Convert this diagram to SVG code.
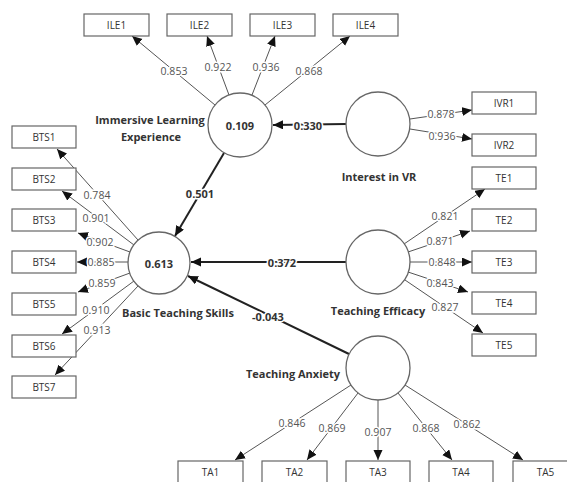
<svg xmlns="http://www.w3.org/2000/svg" width="567" height="482" viewBox="0 0 567 482">
<defs>
<marker id="ah" markerUnits="userSpaceOnUse" markerWidth="11" markerHeight="10" refX="10" refY="4.5" orient="auto"><path d="M0,0 L10,4.5 L0,9 z" fill="#111"/></marker>
<style>
.box{fill:#fff;stroke:#666;stroke-width:1.2}
.bt{font-family:"Open Sans","Noto Sans",sans-serif;font-size:10px;fill:#333;text-anchor:middle;dominant-baseline:central}
.lv{fill:#fff;stroke:#666;stroke-width:1.3}
.ld{stroke:#555;stroke-width:1;fill:none;marker-end:url(#ah)}
.pt{stroke:#222;stroke-width:2;fill:none;marker-end:url(#ah)}
.ll{font-family:"Open Sans","Noto Sans",sans-serif;font-size:10.5px;fill:#555;text-anchor:middle;dominant-baseline:central;stroke:#fff;stroke-width:3;paint-order:stroke}
.pl{font-family:"Open Sans","Noto Sans",sans-serif;font-size:11px;font-weight:bold;fill:#333;text-anchor:middle;dominant-baseline:central;stroke:#fff;stroke-width:3;paint-order:stroke}
.cn{font-family:"Open Sans","Noto Sans",sans-serif;font-size:11px;font-weight:bold;fill:#333;text-anchor:middle;dominant-baseline:central}
</style>
</defs>
<g id="connectors">
<line class="pt" x1="346" y1="124" x2="273" y2="125"/>
<line class="pt" x1="224" y1="153" x2="175" y2="236"/>
<line class="pt" x1="346" y1="262" x2="191" y2="262"/>
<line class="pt" x1="349" y1="354" x2="188" y2="276"/>
<line class="ld" x1="215" y1="105" x2="132" y2="36"/>
<line class="ld" x1="229" y1="95" x2="207" y2="36"/>
<line class="ld" x1="252" y1="95" x2="275" y2="36"/>
<line class="ld" x1="265" y1="105" x2="350" y2="36"/>
<line class="ld" x1="138" y1="240" x2="57" y2="149"/>
<line class="ld" x1="134" y1="245" x2="62" y2="191"/>
<line class="ld" x1="130" y1="252" x2="78" y2="233"/>
<line class="ld" x1="128" y1="262" x2="77" y2="262"/>
<line class="ld" x1="130" y1="273" x2="78" y2="292"/>
<line class="ld" x1="134" y1="281" x2="62" y2="334"/>
<line class="ld" x1="138" y1="286" x2="55" y2="375"/>
<line class="ld" x1="410" y1="119" x2="472" y2="110"/>
<line class="ld" x1="410" y1="129" x2="472" y2="139"/>
<line class="ld" x1="404" y1="244" x2="485" y2="189"/>
<line class="ld" x1="408" y1="252" x2="470" y2="231"/>
<line class="ld" x1="410" y1="262" x2="472" y2="262"/>
<line class="ld" x1="408" y1="272" x2="468" y2="292"/>
<line class="ld" x1="405" y1="280" x2="483" y2="333"/>
<line class="ld" x1="351" y1="385" x2="235" y2="460"/>
<line class="ld" x1="358" y1="393" x2="307" y2="460"/>
<line class="ld" x1="378" y1="400" x2="378" y2="460"/>
<line class="ld" x1="398" y1="393" x2="452" y2="460"/>
<line class="ld" x1="405" y1="385" x2="523" y2="460"/>
<text class="pl" x="308" y="125">0.330</text>
<text class="pl" x="200" y="193">0.501</text>
<text class="pl" x="282" y="262">0.372</text>
<text class="pl" x="268" y="316">-0.043</text>
<text class="ll" x="174" y="71">0.853</text>
<text class="ll" x="218" y="67">0.922</text>
<text class="ll" x="266" y="67">0.936</text>
<text class="ll" x="309" y="71">0.868</text>
<text class="ll" x="97" y="195">0.784</text>
<text class="ll" x="96" y="218">0.901</text>
<text class="ll" x="100" y="242">0.902</text>
<text class="ll" x="101" y="262">0.885</text>
<text class="ll" x="102" y="283">0.859</text>
<text class="ll" x="96" y="310">0.910</text>
<text class="ll" x="97" y="330">0.913</text>
<text class="ll" x="441" y="114">0.878</text>
<text class="ll" x="442" y="136">0.936</text>
<text class="ll" x="445" y="216">0.821</text>
<text class="ll" x="440" y="241">0.871</text>
<text class="ll" x="442" y="262">0.848</text>
<text class="ll" x="440" y="283">0.843</text>
<text class="ll" x="445" y="307">0.827</text>
<text class="ll" x="292" y="423">0.846</text>
<text class="ll" x="332" y="428">0.869</text>
<text class="ll" x="378" y="432">0.907</text>
<text class="ll" x="426" y="428">0.868</text>
<text class="ll" x="467" y="424">0.862</text>
</g>
<g id="ILE"><circle class="lv" cx="240" cy="125" r="32"/><text class="cn" x="240" y="125">0.109</text><text class="cn" x="150" y="119">Immersive Learning</text><text class="cn" x="151" y="136">Experience</text></g>
<g id="IVR"><circle class="lv" cx="378" cy="124" r="32"/><text class="cn" x="379" y="176">Interest in VR</text></g>
<g id="BTS"><circle class="lv" cx="159" cy="263" r="31"/><text class="cn" x="159" y="263">0.613</text><text class="cn" x="178" y="312">Basic Teaching Skills</text></g>
<g id="TE"><circle class="lv" cx="378" cy="262" r="32"/><text class="cn" x="378" y="310">Teaching Efficacy</text></g>
<g id="TA"><circle class="lv" cx="378" cy="368" r="32"/><text class="cn" x="293" y="373">Teaching Anxiety</text></g>
<g id="ILE1"><rect class="box" x="84" y="14" width="65" height="22"/><text class="bt" x="116.5" y="25">ILE1</text></g>
<g id="ILE2"><rect class="box" x="167" y="14" width="65" height="22"/><text class="bt" x="199.5" y="25">ILE2</text></g>
<g id="ILE3"><rect class="box" x="250" y="14" width="65" height="22"/><text class="bt" x="282.5" y="25">ILE3</text></g>
<g id="ILE4"><rect class="box" x="333" y="14" width="65" height="22"/><text class="bt" x="365.5" y="25">ILE4</text></g>
<g id="BTS1"><rect class="box" x="12" y="126" width="64" height="22"/><text class="bt" x="44" y="137">BTS1</text></g>
<g id="BTS2"><rect class="box" x="12" y="168" width="64" height="22"/><text class="bt" x="44" y="179">BTS2</text></g>
<g id="BTS3"><rect class="box" x="12" y="209" width="64" height="22"/><text class="bt" x="44" y="220">BTS3</text></g>
<g id="BTS4"><rect class="box" x="12" y="251" width="64" height="22"/><text class="bt" x="44" y="262">BTS4</text></g>
<g id="BTS5"><rect class="box" x="12" y="293" width="64" height="22"/><text class="bt" x="44" y="304">BTS5</text></g>
<g id="BTS6"><rect class="box" x="12" y="335" width="64" height="22"/><text class="bt" x="44" y="346">BTS6</text></g>
<g id="BTS7"><rect class="box" x="12" y="376" width="64" height="22"/><text class="bt" x="44" y="387">BTS7</text></g>
<g id="IVR1"><rect class="box" x="472" y="92" width="64" height="22"/><text class="bt" x="504" y="103">IVR1</text></g>
<g id="IVR2"><rect class="box" x="472" y="134" width="64" height="22"/><text class="bt" x="504" y="145">IVR2</text></g>
<g id="TE1"><rect class="box" x="472" y="167" width="64" height="22"/><text class="bt" x="504" y="178">TE1</text></g>
<g id="TE2"><rect class="box" x="472" y="209" width="64" height="22"/><text class="bt" x="504" y="220">TE2</text></g>
<g id="TE3"><rect class="box" x="472" y="251" width="64" height="22"/><text class="bt" x="504" y="262">TE3</text></g>
<g id="TE4"><rect class="box" x="472" y="292" width="64" height="22"/><text class="bt" x="504" y="303">TE4</text></g>
<g id="TE5"><rect class="box" x="472" y="334" width="64" height="22"/><text class="bt" x="504" y="345">TE5</text></g>
<g id="TA1"><rect class="box" x="178" y="461" width="65" height="24"/><text class="bt" x="210.5" y="472">TA1</text></g>
<g id="TA2"><rect class="box" x="262" y="461" width="65" height="24"/><text class="bt" x="294.5" y="472">TA2</text></g>
<g id="TA3"><rect class="box" x="346" y="461" width="64" height="24"/><text class="bt" x="378" y="472">TA3</text></g>
<g id="TA4"><rect class="box" x="429" y="461" width="64" height="24"/><text class="bt" x="461" y="472">TA4</text></g>
<g id="TA5"><rect class="box" x="513" y="461" width="65" height="24"/><text class="bt" x="545.5" y="472">TA5</text></g>
</svg>
